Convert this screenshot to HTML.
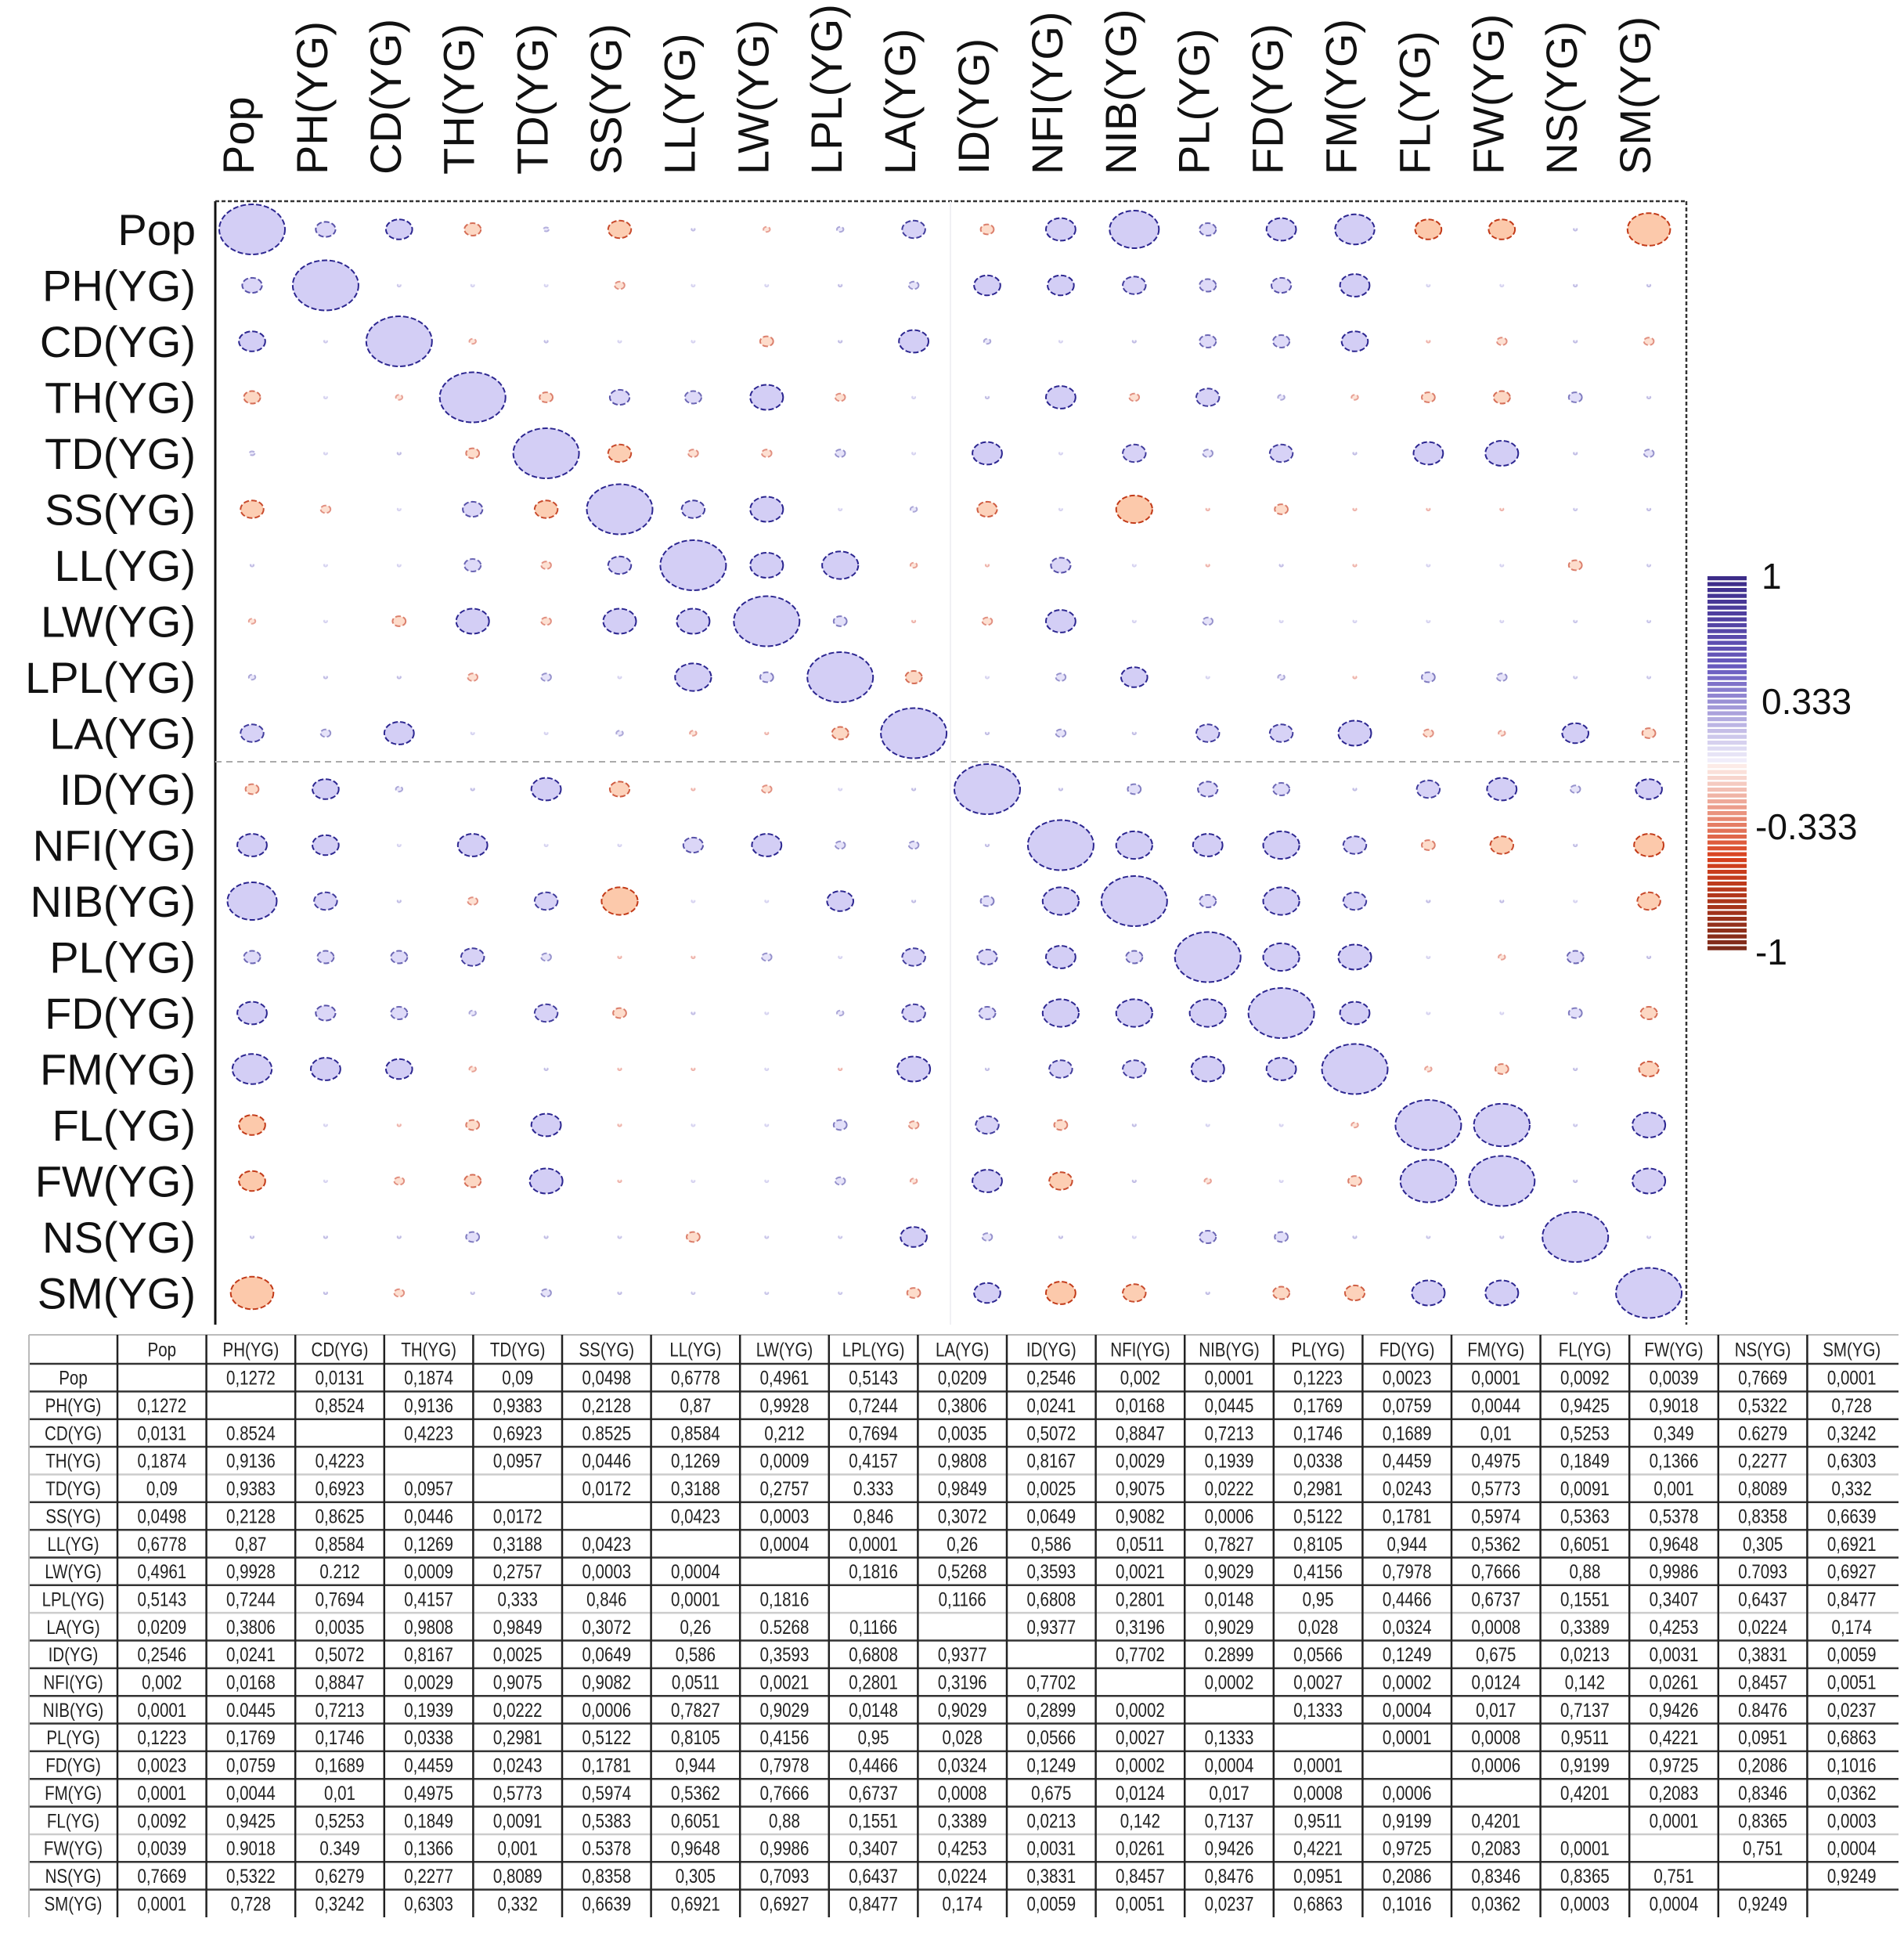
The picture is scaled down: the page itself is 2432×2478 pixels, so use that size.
<!DOCTYPE html>
<html><head><meta charset="utf-8"><style>
html,body{margin:0;padding:0;background:#fff;}
svg{display:block;}
text{font-family:"Liberation Sans",sans-serif;}
</style></head><body>
<svg id="chart" width="2432" height="2478" viewBox="0 0 2432 2478" xmlns="http://www.w3.org/2000/svg">
<rect x="0" y="0" width="2432" height="2478" fill="#fff"/>
<g id="plot"></g>
<g id="colorbar"></g>
<g id="table"></g>
</svg>
<script>
const labels = ["Pop","PH(YG)","CD(YG)","TH(YG)","TD(YG)","SS(YG)","LL(YG)","LW(YG)","LPL(YG)","LA(YG)","ID(YG)","NFI(YG)","NIB(YG)","PL(YG)","FD(YG)","FM(YG)","FL(YG)","FW(YG)","NS(YG)","SM(YG)"];
// upper triangle correlation estimates (row i, columns i+1..19)
const rPop = [0.3,0.4,-0.25,0.08,-0.35,0.05,-0.1,0.1,0.35,-0.2,0.45,0.75,0.25,0.45,0.6,-0.4,-0.4,0.05,-0.65];
const rPH  = [0.02,0,0,-0.15,0,0,0.05,0.15,0.4,0.4,0.35,0.25,0.3,0.45,0,0,0.05,0.05];
const rCD  = [-0.1,0.05,0,0,-0.2,0.05,0.45,0.1,0,0.05,0.25,0.25,0.4,-0.05,-0.15,0.05,-0.15];
const rTH  = [-0.2,0.3,0.25,0.5,-0.15,0,0.05,0.45,-0.15,0.35,0.1,-0.1,-0.2,-0.25,0.2,0.05];
const rTD  = [-0.35,-0.15,-0.15,0.15,0,0.45,0,0.35,0.15,0.35,0.05,0.45,0.5,0.05,0.15];
const rSS  = [0.35,0.5,0,0.1,-0.3,0,-0.55,-0.05,-0.2,-0.05,-0.05,-0.05,0.03,0.05];
const rLL  = [0.5,0.55,-0.1,-0.05,0.3,0,-0.05,0.05,-0.05,0,0,-0.2,0.03];
const rLW  = [0.2,-0.05,-0.15,0.45,0,0.15,0,0,0,0,0.03,0.03];
const rLPL = [-0.25,0,0.15,0.4,0,0.1,-0.05,0.2,0.15,0.03,0.03];
const rLA  = [0.05,0.15,0.05,0.35,0.35,0.5,-0.15,-0.1,0.4,-0.2];
const rID  = [0.05,0.2,0.3,0.25,0.05,0.35,0.45,0.15,0.4];
const rNFI = [0.55,0.45,0.55,0.35,-0.2,-0.35,0.05,-0.45];
const rNIB = [0.25,0.55,0.35,0.05,0.05,0,-0.35];
const rPL  = [0.55,0.5,0,-0.1,0.25,0.05];
const rFD  = [0.45,0,0,0.2,-0.25];
const rFM  = [-0.1,-0.2,0.05,-0.3];
const rFL  = [0.85,0.03,0.5];
const rFW  = [0.05,0.5];
const rNS  = [0.02];
const rUpper = [rPop,rPH,rCD,rTH,rTD,rSS,rLL,rLW,rLPL,rLA,rID,rNFI,rNIB,rPL,rFD,rFM,rFL,rFW,rNS,[]];
// p-value table rows ("-" = empty)
const pRows = [
"- 0,1272 0,0131 0,1874 0,09 0,0498 0,6778 0,4961 0,5143 0,0209 0,2546 0,002 0,0001 0,1223 0,0023 0,0001 0,0092 0,0039 0,7669 0,0001",
"0,1272 - 0,8524 0,9136 0,9383 0,2128 0,87 0,9928 0,7244 0,3806 0,0241 0,0168 0,0445 0,1769 0,0759 0,0044 0,9425 0,9018 0,5322 0,728",
"0,0131 0.8524 - 0,4223 0,6923 0.8525 0,8584 0,212 0,7694 0,0035 0,5072 0,8847 0,7213 0,1746 0,1689 0,01 0,5253 0,349 0.6279 0,3242",
"0,1874 0,9136 0,4223 - 0,0957 0,0446 0,1269 0,0009 0,4157 0,9808 0,8167 0,0029 0,1939 0,0338 0,4459 0,4975 0,1849 0,1366 0,2277 0,6303",
"0,09 0,9383 0,6923 0,0957 - 0,0172 0,3188 0,2757 0.333 0,9849 0,0025 0,9075 0,0222 0,2981 0,0243 0,5773 0,0091 0,001 0,8089 0,332",
"0,0498 0,2128 0,8625 0,0446 0,0172 - 0,0423 0,0003 0,846 0,3072 0,0649 0,9082 0,0006 0,5122 0,1781 0,5974 0,5363 0,5378 0,8358 0,6639",
"0,6778 0,87 0,8584 0,1269 0,3188 0,0423 - 0,0004 0,0001 0,26 0,586 0,0511 0,7827 0,8105 0,944 0,5362 0,6051 0,9648 0,305 0,6921",
"0,4961 0,9928 0.212 0,0009 0,2757 0,0003 0,0004 - 0,1816 0,5268 0,3593 0,0021 0,9029 0,4156 0,7978 0,7666 0,88 0,9986 0.7093 0,6927",
"0,5143 0,7244 0,7694 0,4157 0,333 0,846 0,0001 0,1816 - 0,1166 0,6808 0,2801 0,0148 0,95 0,4466 0,6737 0,1551 0,3407 0,6437 0,8477",
"0,0209 0,3806 0,0035 0,9808 0,9849 0,3072 0,26 0.5268 0,1166 - 0,9377 0,3196 0,9029 0,028 0,0324 0,0008 0,3389 0,4253 0,0224 0,174",
"0,2546 0,0241 0,5072 0,8167 0,0025 0,0649 0,586 0,3593 0,6808 0,9377 - 0,7702 0.2899 0,0566 0,1249 0,675 0,0213 0,0031 0,3831 0,0059",
"0,002 0,0168 0,8847 0,0029 0,9075 0,9082 0,0511 0,0021 0,2801 0,3196 0,7702 - 0,0002 0,0027 0,0002 0,0124 0,142 0,0261 0,8457 0,0051",
"0,0001 0.0445 0,7213 0,1939 0,0222 0,0006 0,7827 0,9029 0,0148 0,9029 0,2899 0,0002 - 0,1333 0,0004 0,017 0,7137 0,9426 0.8476 0,0237",
"0,1223 0,1769 0,1746 0,0338 0,2981 0,5122 0,8105 0,4156 0,95 0,028 0,0566 0,0027 0,1333 - 0,0001 0,0008 0,9511 0,4221 0,0951 0,6863",
"0,0023 0,0759 0,1689 0,4459 0,0243 0,1781 0,944 0,7978 0,4466 0,0324 0,1249 0,0002 0,0004 0,0001 - 0,0006 0,9199 0,9725 0,2086 0,1016",
"0,0001 0,0044 0,01 0,4975 0,5773 0,5974 0,5362 0,7666 0,6737 0,0008 0,675 0,0124 0,017 0,0008 0,0006 - 0,4201 0,2083 0,8346 0,0362",
"0,0092 0,9425 0,5253 0,1849 0,0091 0,5383 0,6051 0,88 0,1551 0,3389 0,0213 0,142 0,7137 0,9511 0,9199 0,4201 - 0,0001 0,8365 0,0003",
"0,0039 0.9018 0.349 0,1366 0,001 0.5378 0,9648 0,9986 0,3407 0,4253 0,0031 0,0261 0,9426 0,4221 0,9725 0,2083 0,0001 - 0,751 0,0004",
"0,7669 0,5322 0,6279 0,2277 0,8089 0,8358 0,305 0,7093 0,6437 0,0224 0,3831 0,8457 0,8476 0,0951 0,2086 0,8346 0,8365 0,751 - 0,9249",
"0,0001 0,728 0,3242 0,6303 0,332 0,6639 0,6921 0,6927 0,8477 0,174 0,0059 0,0051 0,0237 0,6863 0,1016 0,0362 0,0003 0,0004 0,9249 -"
];
const cbTicks = [1, 0.333, -0.333, -1];
const cbTickLabels = ["1","0.333","-0.333","-1"];

const NS="http://www.w3.org/2000/svg";
function mk(tag, attrs, parent){const e=document.createElementNS(NS,tag);for(const k in attrs)e.setAttribute(k,attrs[k]);parent.appendChild(e);return e;}
function R(i,j){if(i===j)return 1;const a=Math.min(i,j),b=Math.max(i,j);return rUpper[a][b-a-1];}
function mix(c1,c2,t){const h=s=>[1,3,5].map(k=>parseInt(s.substr(k,2),16));const a=h(c1),b=h(c2);return "rgb("+a.map((v,k)=>Math.round(v+(b[k]-v)*t)).join(",")+")";}
const xS = j => 322 + 93.9*j;
const yS = i => 293 + 71.5*i;
const plot=document.getElementById('plot');

const fr=mk('line',{x1:275,y1:257,x2:275,y2:1692,stroke:'#111','stroke-width':3},plot);


const ft=mk('line',{x1:275,y1:257,x2:2154,y2:257,stroke:'#333','stroke-width':2.5,'stroke-dasharray':'5 3'},plot);


const frt=mk('line',{x1:2154,y1:257,x2:2154,y2:1692,stroke:'#333','stroke-width':2.5,'stroke-dasharray':'5 3'},plot);


const dh=mk('line',{x1:275,y1:973,x2:2154,y2:973,stroke:'#aaa','stroke-width':2,'stroke-dasharray':'8 6'},plot);


const dv=mk('line',{x1:1214,y1:257,x2:1214,y2:1692,stroke:'#f0f0f4','stroke-width':2},plot);



labels.forEach((l,j)=>{
  const t=mk('text',{x:0,y:0,'font-size':56,fill:'#111',transform:`translate(${xS(j)+2},223) rotate(-90)`},plot);
  t.textContent=l;
  
  
  const r=mk('text',{x:250,y:yS(j)+20,'font-size':56,fill:'#111','text-anchor':'end'},plot);
  r.textContent=l;
  
  
});

for(let i=0;i<20;i++)for(let j=0;j<20;j++){
  const r=R(i,j), a=Math.abs(r), t=Math.min(1,a/0.4);
  const rx=Math.max(2,42*a), ry=Math.max(1.6,32*a);
  let fill,stroke;
  if(r>=0){fill=mix('#f1effc','#d3cef5',t);stroke=mix('#d6d3f0','#2c2690',t);}
  else{fill=mix('#fdeeea','#fcc9ab',t);stroke=mix('#f4c4c0','#c23a18',t);}
  const e=mk('ellipse',{cx:xS(j),cy:yS(i),rx:rx,ry:ry,fill:fill,stroke:stroke,'stroke-width':2,'stroke-dasharray':'7 3'},plot);
  
  
}

const cb=document.getElementById('colorbar');
const cbTop=736, cbBot=1216;
const cbY=v=>cbTop+(1-v)/2*(cbBot-cbTop);
const N=64;
for(let k=0;k<N;k++){
  const v=1-2*(k+0.5)/N;
  let c;
  if(v>=0) c=v>0.5?mix('#6a5cc0','#3a2a86',(v-0.5)/0.5):mix('#f4f2fc','#6a5cc0',v/0.5);
  else c=v<-0.5?mix('#d8401c','#7a2a1a',(-v-0.5)/0.5):mix('#fdf0ee','#d8401c',-v/0.5);
  const s=mk('rect',{x:2181,y:cbY(v)-(cbBot-cbTop)/N*0.5,width:50,height:(cbBot-cbTop)/N*0.7,fill:c},cb);
  
  
}
cbTicks.forEach((v,k)=>{
  const t=mk('text',{x:cbTickLabels[k].startsWith('-')?2242:2250,y:cbY(v)+16,'font-size':46,fill:'#111'},cb);
  t.textContent=cbTickLabels[k];
  
  
});

const tb=document.getElementById('table');
const tx0=37, tx1=150, cw=(2422-150)/20, hy0=1705, hy1=1742, rh=35.35;
const colX=c=>c===0?tx0:tx1+(c-1)*cw;
const colW=c=>c===0?tx1-tx0:cw;
const yBottom=hy1+20*rh;
function cellText(str,c,yc,name){
  const cx=colX(c)+colW(c)/2;
  const t=mk('text',{x:0,y:0,'font-size':25,fill:'#222','text-anchor':'middle',transform:`translate(${cx},${yc+9}) scale(0.82,1)`},tb);
  t.textContent=str;
  
  
}
const hl=mk('line',{x1:tx0,y1:hy0,x2:2425,y2:hy0,stroke:'#bbb','stroke-width':2},tb);


labels.forEach((l,k)=>cellText(l,k+1,(hy0+hy1)/2,'table-header-'+k));
const light=[3,8,16];
for(let i=0;i<=20;i++){
  const y=hy1+i*rh;
  const ln=mk('line',{x1:tx0,y1:y,x2:2425,y2:y,stroke:light.includes(i-1)?'#ccc':'#333','stroke-width':i===20?0:2.5},tb);
  
  
}
for(let c=1;c<=20;c++){
  const x=colX(c);
  const ln=mk('line',{x1:x,y1:hy0,x2:x,y2:yBottom,stroke:'#222','stroke-width':2.5},tb);
  
  
}
const lb=mk('line',{x1:tx0,y1:hy0,x2:tx0,y2:yBottom,stroke:'#bbb','stroke-width':2},tb);


pRows.forEach((row,i)=>{
  const yc=hy1+i*rh+rh/2;
  cellText(labels[i],0,yc,'table-row-label-'+i);
  row.split(' ').forEach((v,j)=>{ if(v!=='-') cellText(v,j+1,yc,'p-value-'+i+'-'+j); });
});
</script>
</body></html>
